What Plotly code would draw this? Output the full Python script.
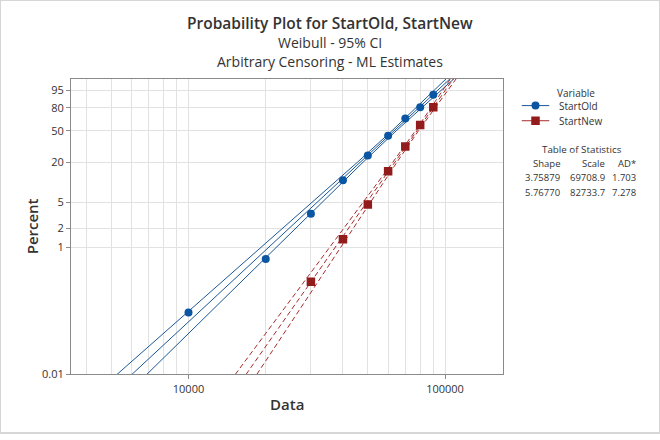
import numpy as np
import plotly.graph_objects as go

# ---------------- data ----------------
pct_ticks = [0.01, 1, 2, 5, 20, 50, 80, 95]
pct_tick_labels = ["0.01", "1", "2", "5", "20", "50", "80", "95"]
x_ticks = [10000, 100000]
x_tick_labels = ["10000", "100000"]
x_minor_grid = [4000, 5000, 6000, 7000, 8000, 9000,
                20000, 30000, 40000, 50000, 60000, 70000, 80000, 90000]

series_names = ["StartOld", "StartNew"]
old_data = [10000, 20000, 30000, 40000, 50000, 60000, 70000, 80000, 90000]
old_pct = [0.095, 0.66, 3.36, 10.9, 24.7, 44.0, 66.4, 80.6, 92.4]
new_data = [30000, 40000, 50000, 60000, 70000, 80000, 90000]
new_pct = [0.29, 1.35, 4.67, 14.8, 32.4, 57.7, 80.6]

stat_headers = ["Shape", "Scale", "AD*"]
stat_shape = [3.75879, 5.76770]
stat_scale = [69708.9, 82733.7]
stat_ad = [1.703, 7.278]

ci_pct = [0.01, 0.1, 1, 5, 20, 50, 80, 95, 99]
old_ci_lower = [5262, 10047, 19200, 30307, 45612, 62022, 77284, 90582, 101046]
old_ci_upper = [6873, 12258, 21893, 33016, 47960, 64467, 81001, 96170, 108376]
new_ci_lower = [15211, 23246, 35534, 47925, 62634, 76562, 88330, 97920, 105105]
new_ci_upper = [18457, 26845, 39082, 50997, 64960, 78731, 91396, 102256, 110595]

# ---------------- helpers ----------------
W, H = 660, 440
PL, PR, PT, PB = 71, 502.5, 80, 380.5


def wb(p):
    p = np.asarray(p, dtype=float) / 100.0
    return np.log(-np.log(1.0 - p))


def px(x):
    return x / W


def py(y):
    return 1 - y / H


BLUE = "#0b56a2"
BLUE_L = "#1b5796"
RED = "#921b1b"
RED_L = "#a62a2a"
TXT = "#333333"
FONT = "Open Sans"

fig = go.Figure()

colors = [BLUE, RED]
lcolors = [BLUE_L, RED_L]
dashes = ["solid", "5px,3px"]
datas = [old_data, new_data]
pcts = [old_pct, new_pct]
lowers = [old_ci_lower, new_ci_lower]
uppers = [old_ci_upper, new_ci_upper]
symbols = ["circle", "square"]
msizes = [8, 8.5]

yci = wb(ci_pct)
for i in range(2):
    fit_x = stat_scale[i] * (-np.log(1 - np.array(ci_pct) / 100.0)) ** (1.0 / stat_shape[i])
    for xs in (lowers[i], list(fit_x), uppers[i]):
        fig.add_trace(go.Scatter(
            x=xs, y=yci, mode="lines", showlegend=False, hoverinfo="skip",
            line=dict(color=lcolors[i], width=1, dash=dashes[i])))
    fig.add_trace(go.Scatter(
        x=datas[i], y=wb(pcts[i]), mode="markers", showlegend=False,
        name=series_names[i],
        marker=dict(symbol=symbols[i], size=msizes[i], color=colors[i])))
    # legend glyphs drawn on a small hidden helper axis
    fig.add_trace(go.Scatter(
        x=[0, 1], y=[i, i], xaxis="x2", yaxis="y2", mode="lines",
        showlegend=False, hoverinfo="skip",
        line=dict(color=lcolors[i], width=1)))
    fig.add_trace(go.Scatter(
        x=[0.5], y=[i], xaxis="x2", yaxis="y2", mode="markers",
        showlegend=False, hoverinfo="skip",
        marker=dict(symbol=symbols[i], size=msizes[i], color=colors[i])))

ymin, ymax = float(wb(0.01)), float(wb(99))
lx0, lx1 = 3.5419, 5.2240

fig.update_layout(
    xaxis=dict(
        domain=[px(PL), px(PR)], anchor="y",
        type="log", range=[lx0, lx1],
        tickvals=x_ticks, ticktext=x_tick_labels,
        ticks="outside", ticklen=4, tickcolor="#8a8a8a",
        showline=True, linecolor="#8a8a8a", linewidth=1, mirror=True,
        showgrid=True, gridcolor="#e2e2e2", gridwidth=1,
        minor=dict(tickvals=x_minor_grid, showgrid=True, gridcolor="#e2e2e2",
                   gridwidth=1, ticks=""),
        tickfont=dict(family=FONT, size=11, color=TXT), zeroline=False,
    ),
    yaxis=dict(
        domain=[py(PB), py(PT)], anchor="x",
        range=[ymin, ymax],
        tickvals=list(wb(pct_ticks)), ticktext=pct_tick_labels,
        ticks="outside", ticklen=4, tickcolor="#8a8a8a",
        showline=True, linecolor="#8a8a8a", linewidth=1, mirror=True,
        showgrid=True, gridcolor="#e2e2e2", gridwidth=1,
        tickfont=dict(family=FONT, size=11, color=TXT), zeroline=False,
    ),
    xaxis2=dict(domain=[px(521.5), px(549.5)], range=[0, 1], anchor="y2",
                visible=False, fixedrange=True),
    yaxis2=dict(domain=[py(130.4), py(99.6)], range=[1.5, -0.5], anchor="x2",
                visible=False, fixedrange=True),
)

ann = []
ann.append(dict(x=px(330), y=py(23), text="Probability Plot for StartOld, StartNew",
                font=dict(family=FONT, size=15.5, color=TXT, weight=600)))
ann.append(dict(x=px(330), y=py(43), text="Weibull - 95% CI",
                font=dict(family=FONT, size=14, color=TXT)))
ann.append(dict(x=px(330), y=py(62), text="Arbitrary Censoring - ML Estimates",
                font=dict(family=FONT, size=14, color=TXT)))
ann.append(dict(x=px((PL + PR) / 2), y=py(411), text="Data",
                font=dict(family=FONT, size=15, color=TXT, weight=600)))
ann.append(dict(x=px(32), y=py(230), text="Percent", textangle=-90,
                font=dict(family=FONT, size=15, color=TXT, weight=600)))
# legend text
ann.append(dict(x=px(576), y=py(94), text="Variable",
                font=dict(family=FONT, size=10, color=TXT)))
for i, nm in enumerate(series_names):
    ann.append(dict(x=px(557), y=py(107.3 + 15.4 * i), text=nm, xanchor="left",
                    font=dict(family=FONT, size=10, color=TXT)))
# table of statistics
ann.append(dict(x=px(582), y=py(152), text="Table of Statistics",
                font=dict(family=FONT, size=9.8, color=TXT)))
col_right = [562, 607, 638]
for cx, h in zip(col_right, stat_headers):
    ann.append(dict(x=px(cx), y=py(166), text=h, xanchor="right",
                    font=dict(family=FONT, size=9.5, color=TXT)))
row_y = [180, 195.5]
for r in range(2):
    vals = [f"{stat_shape[r]:.5f}", f"{stat_scale[r]:.1f}", f"{stat_ad[r]:.3f}"]
    for cx, v in zip(col_right, vals):
        ann.append(dict(x=px(cx), y=py(row_y[r]), text=v, xanchor="right",
                        font=dict(family=FONT, size=9.5, color=TXT)))
for a in ann:
    a.setdefault("xanchor", "center")
    a.update(xref="paper", yref="paper", yanchor="middle", showarrow=False)

fig.update_layout(
    width=W, height=H,
    margin=dict(l=0, r=0, t=0, b=0, pad=0),
    paper_bgcolor="white", plot_bgcolor="white",
    annotations=ann,
    showlegend=False,
    shapes=[dict(type="rect", xref="paper", yref="paper",
                 x0=0, x1=1, y0=0, y1=1,
                 line=dict(color="#d6d6d6", width=2), layer="below")],
)

fig.write_html(
    "out.html",
    config={"displayModeBar": False},
    post_script="document.body.style.margin='0px';",
)
